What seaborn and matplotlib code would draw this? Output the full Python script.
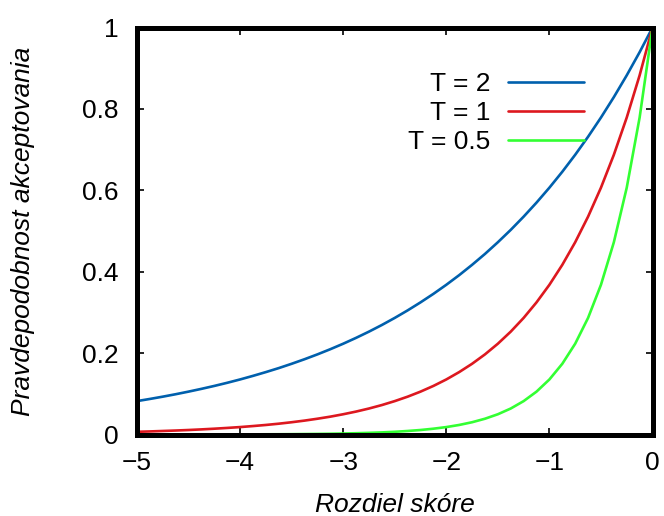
import numpy as np
import pandas as pd
import matplotlib
matplotlib.use('Agg')
import matplotlib.pyplot as plt
import seaborn as sns

# ----- Values -----
x_vals = [-5.0, -4.875, -4.75, -4.625, -4.5, -4.375, -4.25, -4.125, -4.0,
          -3.875, -3.75, -3.625, -3.5, -3.375, -3.25, -3.125, -3.0,
          -2.875, -2.75, -2.625, -2.5, -2.375, -2.25, -2.125, -2.0,
          -1.875, -1.75, -1.625, -1.5, -1.375, -1.25, -1.125, -1.0,
          -0.875, -0.75, -0.625, -0.5, -0.375, -0.25, -0.125, 0.0]

p_t2 = [0.0821, 0.0874, 0.0930, 0.0990, 0.1054, 0.1122, 0.1194, 0.1271, 0.1353,
        0.1441, 0.1534, 0.1632, 0.1738, 0.1850, 0.1969, 0.2096, 0.2231,
        0.2375, 0.2528, 0.2691, 0.2865, 0.3050, 0.3247, 0.3456, 0.3679,
        0.3916, 0.4169, 0.4437, 0.4724, 0.5028, 0.5353, 0.5698, 0.6065,
        0.6456, 0.6873, 0.7316, 0.7788, 0.8290, 0.8825, 0.9394, 1.0]

p_t1 = [0.0067, 0.0076, 0.0087, 0.0098, 0.0111, 0.0126, 0.0143, 0.0162, 0.0183,
        0.0208, 0.0235, 0.0266, 0.0302, 0.0342, 0.0388, 0.0439, 0.0498,
        0.0564, 0.0639, 0.0724, 0.0821, 0.0930, 0.1054, 0.1194, 0.1353,
        0.1534, 0.1738, 0.1969, 0.2231, 0.2528, 0.2865, 0.3247, 0.3679,
        0.4169, 0.4724, 0.5353, 0.6065, 0.6873, 0.7788, 0.8825, 1.0]

p_t05 = [0.0000, 0.0001, 0.0001, 0.0001, 0.0001, 0.0002, 0.0002, 0.0003, 0.0003,
         0.0004, 0.0006, 0.0007, 0.0009, 0.0012, 0.0015, 0.0019, 0.0025,
         0.0032, 0.0041, 0.0052, 0.0067, 0.0087, 0.0111, 0.0143, 0.0183,
         0.0235, 0.0302, 0.0388, 0.0498, 0.0639, 0.0821, 0.1054, 0.1353,
         0.1738, 0.2231, 0.2865, 0.3679, 0.4724, 0.6065, 0.7788, 1.0]

labels = ['T = 2', 'T = 1', 'T = 0.5']
colors = ['#0060ad', '#dd181f', '#33ff33']
x_ticks = [-5, -4, -3, -2, -1, 0]
y_ticks = [0, 0.2, 0.4, 0.6, 0.8, 1]
y_tick_labels = ['0', '0.2', '0.4', '0.6', '0.8', '1']

df = pd.concat([
    pd.DataFrame({'x': x_vals, 'p': p_t2, 'T': labels[0]}),
    pd.DataFrame({'x': x_vals, 'p': p_t1, 'T': labels[1]}),
    pd.DataFrame({'x': x_vals, 'p': p_t05, 'T': labels[2]}),
])

# ----- Style -----
sns.set_style('white')
plt.rcParams['font.family'] = ['Liberation Sans', 'DejaVu Sans']
plt.rcParams['axes.unicode_minus'] = True
plt.rcParams['text.color'] = 'black'
plt.rcParams['axes.labelcolor'] = 'black'
plt.rcParams['xtick.color'] = 'black'
plt.rcParams['ytick.color'] = 'black'
fs = 19

fig = plt.figure(figsize=(6.64, 5.16), dpi=100)
ax = fig.add_axes([0.2063, 0.1579, 0.7764, 0.7888])

sns.lineplot(data=df, x='x', y='p', hue='T', hue_order=labels,
             palette=colors, linewidth=1.9, ax=ax)

ax.set_xlim(-5, 0)
ax.set_ylim(0, 1)
ax.set_xticks(x_ticks)
ax.set_yticks(y_ticks)
ax.set_yticklabels(y_tick_labels)
ax.tick_params(direction='in', length=5, width=1.2, color='black',
               labelcolor='black', labelsize=fs,
               top=True, right=True, bottom=True, left=True)
ax.tick_params(axis='y', pad=13)
ax.tick_params(axis='x', pad=12)
for s in ax.spines.values():
    s.set_linewidth(3.6)
    s.set_color('black')
    s.set_visible(True)

ax.set_xlabel('Rozdiel skóre', fontsize=fs, style='italic', color='black')
ax.set_ylabel('Pravdepodobnost akceptovania', fontsize=fs, style='italic', color='black')
ax.xaxis.set_label_coords(0.5, -0.144)
ax.yaxis.set_label_coords(-0.198, 0.5)

leg = ax.legend(loc='upper right', bbox_to_anchor=(0.867, 0.891), frameon=False,
                markerfirst=False, fontsize=fs, handlelength=2.88, handletextpad=0.68,
                labelspacing=0.2, borderpad=0, borderaxespad=0)
for t in leg.get_texts():
    t.set_color('black')

plt.savefig('out.png', dpi=100)
